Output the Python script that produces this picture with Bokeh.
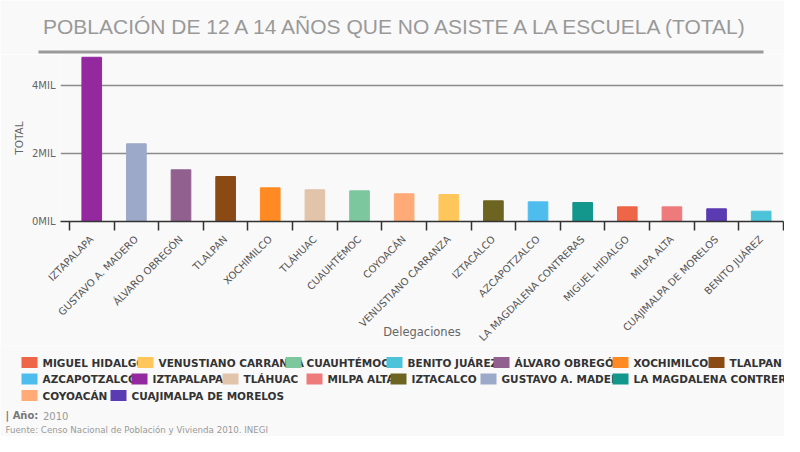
import math
from bokeh.plotting import figure
from bokeh.models import Range1d, FixedTicker, ColumnDataSource
from bokeh.layouts import column
from bokeh.embed import file_html
from bokeh.resources import INLINE
from bokeh.core.properties import value

# ---------------- data ----------------
titulo = "POBLACIÓN DE 12 A 14 AÑOS QUE NO ASISTE A LA ESCUELA (TOTAL)"
delegaciones = ["IZTAPALAPA", "GUSTAVO A. MADERO", "ÁLVARO OBREGÓN", "TLALPAN",
                "XOCHIMILCO", "TLÁHUAC", "CUAUHTÉMOC", "COYOACÁN",
                "VENUSTIANO CARRANZA", "IZTACALCO", "AZCAPOTZALCO",
                "LA MAGDALENA CONTRERAS", "MIGUEL HIDALGO", "MILPA ALTA",
                "CUAJIMALPA DE MORELOS", "BENITO JUÁREZ"]
totales = [4830, 2285, 1520, 1323, 990, 932, 902, 814, 794, 608, 578, 559,
           431, 431, 373, 304]
colores = ["#94299F", "#9DA9C9", "#91608F", "#8B4A14", "#FF8A24", "#E2C4AA",
           "#7CC79E", "#FFAA77", "#FFC65C", "#6E6421", "#4EBDEE", "#13968B",
           "#EE6547", "#EE7A7C", "#5B3BB2", "#4DC3D9"]
y_ticks = [0, 2000, 4000]
y_tick_labels = ["0MIL", "2MIL", "4MIL"]
leyenda_orden = [
    ["MIGUEL HIDALGO", "VENUSTIANO CARRANZA", "CUAUHTÉMOC", "BENITO JUÁREZ",
     "ÁLVARO OBREGÓN", "XOCHIMILCO", "TLALPAN"],
    ["AZCAPOTZALCO", "IZTAPALAPA", "TLÁHUAC", "MILPA ALTA", "IZTACALCO",
     "GUSTAVO A. MADERO", "LA MAGDALENA CONTRERAS"],
    ["COYOACÁN", "CUAJIMALPA DE MORELOS"],
]
anio_label = "| Año:"
anio = "2010"
fuente = "Fuente: Censo Nacional de Población y Vivienda 2010. INEGI"
eje_x = "Delegaciones"
eje_y = "TOTAL"

# ---------------- layout constants ----------------
BG = "#f9f9f9"
W = 784
leyenda_x = [[21, 137, 285, 386, 493, 612, 708],
             [21, 131, 222, 306, 390, 480, 612],
             [21, 110]]
leyenda_y = [362, 378.5, 395]


def blank(h, y0, y1):
    f = figure(width=W, height=h, x_range=Range1d(0, W), y_range=Range1d(y1, y0),
               x_axis_location=None, y_axis_location=None, output_backend="svg",
               toolbar_location=None, min_border=0, background_fill_color=BG,
               border_fill_color=BG, outline_line_color=None, frame_align=False)
    f.grid.visible = False
    return f


# ---------------- title ----------------
pa = blank(54, 0, 54)
pa.text(x=[398], y=[25.5], text=[titulo], text_font=value("Liberation Sans"),
        text_font_size="21px", text_color="#999999", text_align="center",
        text_baseline="alphabetic")
pa.segment(x0=[38], y0=[51.5], x1=[763], y1=[51.5], line_width=3, line_color="#9a9a9a")

# ---------------- bars ----------------
centros = [i + 0.5 for i in range(len(delegaciones))]
src = ColumnDataSource(dict(x=centros, top=totales, color=colores, name=delegaciones))
y_end = 2000 * (221 - 54) / 68.0
pb = figure(width=W, height=291, x_range=Range1d(-0.2, len(delegaciones)),
            y_range=Range1d(0, y_end), output_backend="svg", toolbar_location=None,
            min_border_left=60, min_border_right=1, min_border_top=0,
            min_border_bottom=124, background_fill_color=BG, border_fill_color=BG,
            outline_line_color=None, frame_align=False)
pb.vbar(x="x", top="top", width=0.44, color="color", source=src)

xa = pb.xaxis[0]
xa.ticker = FixedTicker(ticks=centros, minor_ticks=list(range(len(delegaciones) + 1)))
xa.major_label_overrides = {c: n for c, n in zip(centros, delegaciones)}
xa.major_tick_line_color = None
xa.major_tick_out = 9
xa.major_tick_in = 0
xa.minor_tick_out = 9
xa.minor_tick_in = 0
xa.minor_tick_line_color = "#333333"
xa.minor_tick_line_width = 1.5
xa.axis_line_color = "#333333"
xa.axis_line_width = 1.5
xa.major_label_orientation = math.pi / 4
xa.major_label_standoff = 7
xa.major_label_text_font = "DejaVu Sans"
xa.major_label_text_font_size = "10px"
xa.major_label_text_color = "#555555"
xa.axis_label = eje_x
xa.axis_label_text_font = "DejaVu Sans"
xa.axis_label_text_font_size = "11.5px"
xa.axis_label_text_font_style = "normal"
xa.axis_label_text_color = "#666666"
xa.axis_label_standoff = -25

ya = pb.yaxis[0]
ya.ticker = FixedTicker(ticks=y_ticks)
ya.major_label_overrides = {t: l for t, l in zip(y_ticks, y_tick_labels)}
ya.major_tick_line_color = None
ya.major_tick_out = 0
ya.major_tick_in = 0
ya.minor_tick_line_color = None
ya.axis_line_color = None
ya.major_label_standoff = 5
ya.major_label_text_font = "DejaVu Sans"
ya.major_label_text_font_size = "10px"
ya.major_label_text_color = "#666666"
ya.axis_label = eje_y
ya.axis_label_text_font = "DejaVu Sans"
ya.axis_label_text_font_size = "10.5px"
ya.axis_label_text_font_style = "normal"
ya.axis_label_text_color = "#666666"
ya.axis_label_standoff = 4

pb.xgrid.visible = False
pb.ygrid.ticker = FixedTicker(ticks=y_ticks)
pb.ygrid.grid_line_color = "#8c8c8c"
pb.ygrid.grid_line_width = 1.5

# ---------------- legend + notes ----------------
pc = blank(91, 345, 436)
color_de = dict(zip(delegaciones, colores))
lx, ly, ln, lc = [], [], [], []
for r, fila in enumerate(leyenda_orden):
    for c, nombre in enumerate(fila):
        lx.append(leyenda_x[r][c])
        ly.append(leyenda_y[r])
        ln.append(nombre)
        lc.append(color_de[nombre])
ley = ColumnDataSource(dict(x=lx, tx=[v + 21 for v in lx], rx=[v + 8 for v in lx],
                            y=ly, name=ln, color=lc))
pc.text(x="tx", y="y", text="name", source=ley, text_font=value("DejaVu Sans"),
        text_font_style="bold", text_font_size="10.5px", text_color="#333333",
        text_baseline="middle")
pc.rect(x="rx", y="y", width=16, height=11, fill_color="color", line_color=None,
        source=ley)
pc.text(x=[5], y=[415], text=[anio_label], text_font=value("DejaVu Sans"),
        text_font_style="bold", text_font_size="10px", text_color="#777777",
        text_baseline="middle")
pc.text(x=[42.5], y=[415], text=[anio], text_font=value("DejaVu Sans"),
        text_font_size="10px", text_color="#999999", text_baseline="middle")
pc.text(x=[5], y=[429.5], text=[fuente], text_font=value("DejaVu Sans"),
        text_font_size="8.7px", text_color="#999999", text_baseline="middle")

p = column(pa, pb, pc)
open("out.html", "w").write(file_html(p, INLINE))
